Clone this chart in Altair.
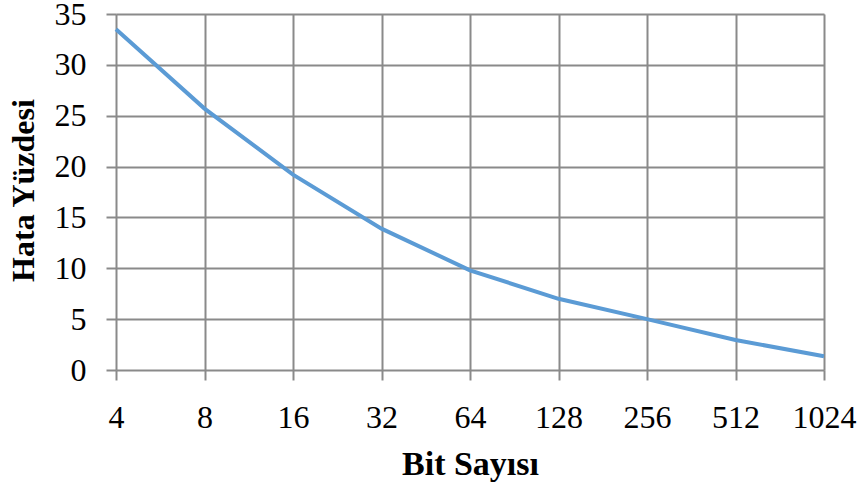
import altair as alt
import pandas as pd

bits = ["4", "8", "16", "32", "64", "128", "256", "512", "1024"]
error_pct = [33.5, 25.7, 19.2, 13.9, 9.8, 7.0, 5.0, 2.95, 1.35]

df = pd.DataFrame({"bits": bits, "error": error_pct})

GRID = "#8a8a8a"
FONT = "Liberation Serif"

chart = alt.Chart(df).mark_line(color="#5B9BD5", strokeWidth=4).encode(
    x=alt.X(
        "bits:O",
        sort=bits,
        scale=alt.Scale(type="point", padding=0),
        axis=alt.Axis(
            title="Bit Sayısı",
            labelAngle=0,
            labelFont=FONT,
            labelFontSize=32,
            labelColor="black",
            labelPadding=22,
            labelBaseline="top",
            tickSize=10,
            tickColor=GRID,
            tickWidth=2,
            grid=True,
            gridColor=GRID,
            gridWidth=2,
            domain=False,
            titleFont=FONT,
            titleFontSize=34,
            titleFontWeight="bold",
            titleColor="black",
            titleBaseline="alphabetic",
            titleY=104,
        ),
    ),
    y=alt.Y(
        "error:Q",
        scale=alt.Scale(domain=[0, 35], nice=False),
        axis=alt.Axis(
            title="Hata Yüzdesi",
            values=[0, 5, 10, 15, 20, 25, 30, 35],
            labelFont=FONT,
            labelFontSize=32,
            labelColor="black",
            labelPadding=20,
            tickSize=10,
            tickColor=GRID,
            tickWidth=2,
            grid=True,
            gridColor=GRID,
            gridWidth=2,
            domain=False,
            titleFont=FONT,
            titleFontSize=32,
            titleFontWeight="bold",
            titleColor="black",
            titleAngle=-90,
            titleBaseline="alphabetic",
            titleAlign="center",
            titleX=-83,
            titleY=176,
        ),
    ),
).properties(
    width=708,
    height=356,
    autosize=alt.AutoSizeParams(type="none"),
    padding={"left": 116, "top": 14, "right": 39, "bottom": 119},
).configure_view(stroke=None).configure(background="white")

chart.save("out.html", embed_options={"renderer": "svg", "actions": False})
